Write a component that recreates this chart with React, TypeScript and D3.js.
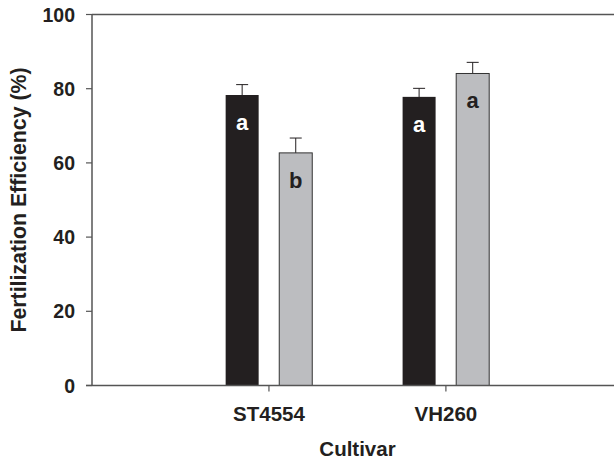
import React from "react";
import * as d3 from "d3";

const categories = ["ST4554", "VH260"];
const blackValues = [78.3, 77.8];
const blackErrors = [2.8, 2.3];
const grayValues = [62.7, 84.1];
const grayErrors = [4.0, 3.0];
const blackLetters = ["a", "a"];
const grayLetters = ["b", "a"];
const yTicks = [0, 20, 40, 60, 80, 100];

const W = 614;
const H = 461;
const left = 92;
const right = 614;
const top = 14.5;
const bottom = 385.5;
const FONT = "Arial, 'Liberation Sans', Helvetica, sans-serif";

export default function App() {
  const y = d3.scaleLinear().domain([0, 100]).range([bottom, top]);
  const x = d3.scaleLinear().domain([0, 2.95]).range([left, right]);
  const barW = 33;
  const off = 26.8;
  const axisColor = "#555";

  const series = [
    { values: blackValues, errors: blackErrors, letters: blackLetters, fill: "#231f20", letterColor: "#fff", dx: -off },
    { values: grayValues, errors: grayErrors, letters: grayLetters, fill: "#bcbdc0", letterColor: "#231f20", dx: off },
  ];

  return (
    <svg width={W} height={H} style={{ position: "absolute", left: 0, top: 0 }} fontFamily={FONT}>
      <rect width={W} height={H} fill="#fff" />
      {series.map((s, si) =>
        categories.map((c, i) => {
          const cx = x(i + 1) + s.dx;
          const v = s.values[i];
          const e = s.errors[i];
          return (
            <g key={`${si}-${i}`}>
              <line x1={cx} x2={cx} y1={y(v + e)} y2={y(v - e)} stroke="#231f20" strokeWidth={1} />
              <line x1={cx - 6} x2={cx + 6} y1={y(v + e)} y2={y(v + e)} stroke="#231f20" strokeWidth={1} />
              <line x1={cx - 6} x2={cx + 6} y1={y(v - e)} y2={y(v - e)} stroke="#231f20" strokeWidth={1} />
              <rect x={cx - barW / 2} y={y(v)} width={barW} height={bottom - y(v)} fill={s.fill} stroke="#333" strokeWidth={si === 0 ? 0 : 1} />
              <text x={cx} y={y(v) + 35} textAnchor="middle" fontWeight="bold" fontSize={22} fill={s.letterColor}>
                {s.letters[i]}
              </text>
            </g>
          );
        })
      )}
      <line x1={left} x2={left} y1={top} y2={bottom} stroke={axisColor} strokeWidth={1.5} />
      <line x1={left} x2={right} y1={top} y2={top} stroke={axisColor} strokeWidth={1.5} />
      <line x1={left - 6} x2={right} y1={bottom} y2={bottom} stroke={axisColor} strokeWidth={1.5} />
      {yTicks.map((t) => (
        <g key={t}>
          <line x1={left - 6} x2={left} y1={y(t)} y2={y(t)} stroke={axisColor} strokeWidth={1.2} />
          <text x={75} y={y(t)} dy="0.36em" textAnchor="end" fontWeight="bold" fontSize={19.5} fill="#231f20">
            {t}
          </text>
        </g>
      ))}
      {categories.map((c, i) => (
        <g key={c}>
          <line x1={x(i + 1)} x2={x(i + 1)} y1={bottom} y2={bottom + 6} stroke={axisColor} strokeWidth={1.2} />
          <text x={x(i + 1)} y={bottom + 35} textAnchor="middle" fontWeight="bold" fontSize={20.5} fill="#231f20">
            {c}
          </text>
        </g>
      ))}
      <text x={357.5} y={456} textAnchor="middle" fontWeight="bold" fontSize={20.5} fill="#231f20">
        Cultivar
      </text>
      <text
        transform={`translate(26, ${(top + bottom) / 2}) rotate(-90)`}
        textAnchor="middle"
        fontWeight="bold"
        fontSize={21.3}
        fill="#231f20"
      >
        Fertilization Efficiency (%)
      </text>
    </svg>
  );
}
